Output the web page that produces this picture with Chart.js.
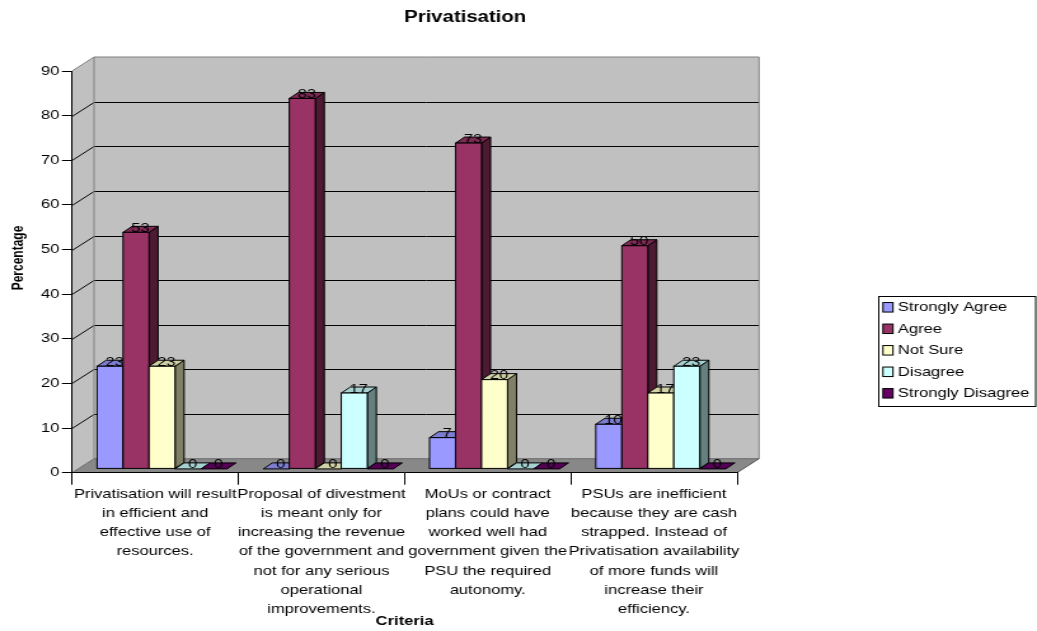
<!DOCTYPE html>
<html>
<head>
<meta charset="utf-8">
<title>Privatisation</title>
<script src="https://cdn.jsdelivr.net/npm/chart.js@4.4.1/dist/chart.umd.min.js"></script>
<style>
  html, body { margin: 0; padding: 0; background: #fff; overflow: hidden; }
  /* the chart is laid out on a narrower canvas and widened horizontally */
  #wrap { width: 816px; height: 631px; transform: scaleX(1.2708); transform-origin: 0 0; }
  canvas { display: block; }
</style>
</head>
<body>
<div id="wrap"><canvas id="c" width="816" height="631"></canvas></div>
<script>
// ---- data ----
const categories = [
  ['Privatisation will result', 'in efficient and', 'effective use of', 'resources.'],
  ['Proposal of divestment', 'is meant only for', 'increasing the revenue', 'of the government and', 'not for any serious', 'operational', 'improvements.'],
  ['MoUs or contract', 'plans could have', 'worked well had', 'government given the', 'PSU the required', 'autonomy.'],
  ['PSUs are inefficient', 'because they are cash', 'strapped. Instead of', 'Privatisation availability', 'of more funds will', 'increase their', 'efficiency.']
];
const seriesNames = ['Strongly Agree', 'Agree', 'Not Sure', 'Disagree', 'Strongly Disagree'];
const stronglyAgree    = [23, 0, 7, 10];
const agree            = [53, 83, 73, 50];
const notSure          = [23, 0, 20, 17];
const disagree         = [0, 17, 0, 23];
const stronglyDisagree = [0, 0, 0, 0];
const yTicks = [0, 10, 20, 30, 40, 50, 60, 70, 80, 90];
const chartTitle = 'Privatisation';
const xTitle = 'Criteria';
const yTitle = 'Percentage';

// ---- style ----
const seriesColors = ['#9999FF', '#993366', '#FFFFCC', '#CCFFFF', '#660066'];
const FONT = '"Liberation Sans", Arial, Helvetica, sans-serif';
const WALL = { dx: 17.3, dy: -14 };    // depth of the back wall
const PLANE = { dx: 5.4, dy: -3.8 };   // plane the column fronts sit on
const PRISM = { dx: 7.1, dy: -6 };     // column depth

Chart.defaults.font.family = FONT;
Chart.defaults.color = '#000';

function shade(hex, k) {
  const n = parseInt(hex.slice(1), 16);
  const r = Math.round(((n >> 16) & 255) * k);
  const g = Math.round(((n >> 8) & 255) * k);
  const b = Math.round((n & 255) * k);
  return `rgb(${r},${g},${b})`;
}

function poly(ctx, pts, fill, stroke) {
  ctx.beginPath();
  ctx.moveTo(pts[0][0], pts[0][1]);
  for (let i = 1; i < pts.length; i++) ctx.lineTo(pts[i][0], pts[i][1]);
  ctx.closePath();
  if (fill) { ctx.fillStyle = fill; ctx.fill(); }
  if (stroke) { ctx.strokeStyle = stroke; ctx.lineWidth = 1; ctx.stroke(); }
}

function line(ctx, pts, color) {
  ctx.beginPath();
  ctx.moveTo(pts[0][0], pts[0][1]);
  for (let i = 1; i < pts.length; i++) ctx.lineTo(pts[i][0], pts[i][1]);
  ctx.strokeStyle = color;
  ctx.lineWidth = 1;
  ctx.stroke();
}

// side wall, back wall, floor and their gridlines
const wallsPlugin = {
  id: 'walls',
  beforeDraw(chart) {
    const { ctx, chartArea: a, scales: { y } } = chart;
    const L = a.left, R = a.right;
    const T = y.getPixelForValue(yTicks[yTicks.length - 1]);
    const B = y.getPixelForValue(yTicks[0]);
    const dx = WALL.dx, dy = WALL.dy;
    ctx.save();
    poly(ctx, [[L, T], [L + dx, T + dy], [L + dx, B + dy], [L, B]], '#C0C0C0');
    ctx.fillStyle = '#C0C0C0';
    ctx.fillRect(L + dx, T + dy, R - L, B - T);
    poly(ctx, [[L, B], [R, B], [R + dx, B + dy], [L + dx, B + dy]], '#888888');
    yTicks.slice(1, -1).forEach(v => {
      const py = Math.round(y.getPixelForValue(v)) + 0.5;
      line(ctx, [[L, py], [L + dx, py + dy], [R + dx, py + dy]], '#000');
    });
    line(ctx, [[L, T], [L + dx, T + dy], [R + dx, T + dy], [R + dx, B + dy]], '#808080');
    line(ctx, [[L + dx, T + dy], [L + dx, B + dy]], '#808080');
    line(ctx, [[L, B], [L + dx, B + dy], [R + dx, B + dy]], '#6a6a6a');
    line(ctx, [[R, B], [R + dx, B + dy]], '#555');
    ctx.restore();
  }
};

// columns as prisms, with the value written on each
const prismPlugin = {
  id: 'prisms',
  beforeDatasetsDraw(chart) {
    const ctx = chart.ctx;
    ctx.save();
    chart.data.labels.forEach((_, i) => {
      chart.data.datasets.forEach((ds, d) => {
        const el = chart.getDatasetMeta(d).data[i];
        const { x, y, base, width } = el.getProps(['x', 'y', 'base', 'width'], true);
        const x0 = x - width / 2 + PLANE.dx, x1 = x0 + width;
        const yt = y + PLANE.dy, yb = base + PLANE.dy;
        const c = ds.backgroundColor;
        const top = [[x0, yt], [x1, yt], [x1 + PRISM.dx, yt + PRISM.dy], [x0 + PRISM.dx, yt + PRISM.dy]];
        if (yb - yt > 0.5) {
          poly(ctx, [[x1, yb], [x1, yt], [x1 + PRISM.dx, yt + PRISM.dy], [x1 + PRISM.dx, yb + PRISM.dy]], shade(c, 0.5), '#000');
          poly(ctx, top, shade(c, 0.82), '#000');
          ctx.fillStyle = c;
          ctx.fillRect(x0, yt, width, yb - yt);
          ctx.strokeStyle = '#000';
          ctx.lineWidth = 1;
          ctx.strokeRect(x0, yt, width, yb - yt);
        } else {
          poly(ctx, top, shade(c, 0.82), '#000');
        }
        ctx.fillStyle = '#000';
        ctx.font = `13px ${FONT}`;
        ctx.textAlign = 'center';
        ctx.textBaseline = 'middle';
        ctx.fillText(String(ds.data[i]), x0 + width / 2 + PRISM.dx / 2, yt - 4);
      });
    });
    ctx.restore();
    return false;
  }
};

// titles and the boxed legend
const annotatePlugin = {
  id: 'annotate',
  afterDraw(chart) {
    const { ctx, chartArea: a } = chart;
    ctx.save();
    ctx.fillStyle = '#000';
    ctx.textAlign = 'center';
    ctx.textBaseline = 'middle';
    ctx.font = `bold 16px ${FONT}`;
    ctx.fillText(chartTitle, 366, 18);
    ctx.font = `bold 13px ${FONT}`;
    ctx.fillText(xTitle, (a.left + a.right) / 2, 621);
    ctx.save();
    ctx.translate(14.2, 258);
    ctx.rotate(-Math.PI / 2);
    ctx.font = `bold 12px ${FONT}`;
    ctx.fillText(yTitle, 0, 0);
    ctx.restore();

    // legend
    ctx.strokeStyle = '#000';
    ctx.lineWidth = 1;
    ctx.strokeRect(691.5, 296.5, 123.5, 110);
    ctx.font = `13px ${FONT}`;
    ctx.textAlign = 'left';
    chart.data.datasets.forEach((ds, d) => {
      const cy = 307.3 + d * 21.5;
      ctx.fillStyle = ds.backgroundColor;
      ctx.fillRect(694.8, cy - 4.75, 7.9, 9.5);
      ctx.strokeRect(694.8, cy - 4.75, 7.9, 9.5);
      ctx.fillStyle = '#000';
      ctx.fillText(ds.label, 706.6, cy + 0.5);
    });
    ctx.restore();
  }
};

const seriesValues = [stronglyAgree, agree, notSure, disagree, stronglyDisagree];

new Chart(document.getElementById('c'), {
  type: 'bar',
  data: {
    labels: categories,
    datasets: seriesNames.map((name, k) => ({
      label: name,
      data: seriesValues[k],
      backgroundColor: seriesColors[k],
      borderColor: '#000',
      borderWidth: 1,
      categoryPercentage: 0.782,
      barPercentage: 1
    }))
  },
  options: {
    responsive: false,
    animation: false,
    devicePixelRatio: 1,
    layout: { padding: { top: 71, right: 236, bottom: 0, left: 0 } },
    plugins: {
      legend: { display: false },
      title: { display: false },
      tooltip: { enabled: false }
    },
    scales: {
      x: {
        grid: { offset: true, drawOnChartArea: false, drawTicks: true, tickLength: 12, color: '#000' },
        border: { display: true, color: '#000', width: 1 },
        ticks: {
          autoSkip: false, maxRotation: 0, minRotation: 0, padding: 0,
          font: { size: 13, lineHeight: 1.477 }, color: '#000'
        },
        afterFit(s) { s.height = 158.3; }
      },
      y: {
        min: yTicks[0],
        max: yTicks[yTicks.length - 1],
        afterBuildTicks(s) { s.ticks = yTicks.map(v => ({ value: v })); },
        grid: { drawOnChartArea: false, drawTicks: true, tickLength: 8, color: '#000' },
        border: { display: true, color: '#000', width: 1 },
        ticks: { padding: 2, font: { size: 13 }, color: '#000' },
        afterFit(s) { s.width = 56.7; }
      }
    }
  },
  plugins: [wallsPlugin, prismPlugin, annotatePlugin]
});
</script>
</body>
</html>
